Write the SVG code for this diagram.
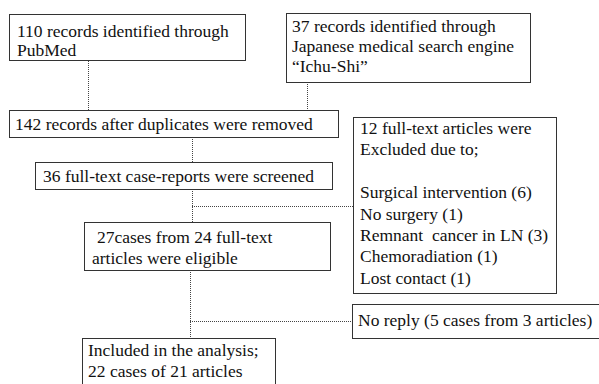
<svg xmlns="http://www.w3.org/2000/svg" width="599" height="384" viewBox="0 0 599 384">
<style>
.box{fill:#fff;stroke:#333;stroke-width:1}
.t{font-family:"Liberation Serif","Times New Roman",serif;font-size:17.5px;fill:#111}
.c{fill:none;stroke:#444;stroke-width:1;stroke-dasharray:1 1}
</style>
<rect width="599" height="384" fill="#fff"/>
<g id="connectors">
<line class="c" x1="88.5" y1="61" x2="88.5" y2="110"/>
<line class="c" x1="307.5" y1="82" x2="307.5" y2="110"/>
<line class="c" x1="192.5" y1="137" x2="192.5" y2="162"/>
<line class="c" x1="192.5" y1="189" x2="192.5" y2="222"/>
<line class="c" x1="192" y1="206.5" x2="354" y2="206.5"/>
<line class="c" x1="190.5" y1="270" x2="190.5" y2="338"/>
<line class="c" x1="190" y1="321.5" x2="352" y2="321.5"/>
</g>
<g id="n1"><rect class="box" x="9.5" y="14.5" width="236" height="46"/>
<text class="t" x="17" y="37">110 records identified through</text>
<text class="t" x="17" y="56">PubMed</text></g>
<g id="n2"><rect class="box" x="286.5" y="13.5" width="244" height="69"/>
<text class="t" x="292" y="32">37 records identified through</text>
<text class="t" x="292" y="52">Japanese medical search engine</text>
<text class="t" x="292" y="72">“Ichu-Shi”</text></g>
<g id="n3"><rect class="box" x="9.5" y="110.5" width="329" height="27"/>
<text class="t" x="15" y="130">142 records after duplicates were removed</text></g>
<g id="n4"><rect class="box" x="35.5" y="162.5" width="297" height="27"/>
<text class="t" x="43" y="182">36 full-text case-reports were screened</text></g>
<g id="n5"><rect class="box" x="84.5" y="222.5" width="246" height="48"/>
<text class="t" x="97" y="243">27cases from 24 full-text</text>
<text class="t" x="92" y="264">articles were eligible</text></g>
<g id="n6"><rect class="box" x="353.5" y="117.5" width="203" height="176"/>
<text class="t" x="360" y="134">12 full-text articles were</text>
<text class="t" x="360" y="155">Excluded due to;</text>
<text class="t" x="360" y="198">Surgical intervention (6)</text>
<text class="t" x="360" y="220">No surgery (1)</text>
<text class="t" x="360" y="241" xml:space="preserve">Remnant  cancer in LN (3)</text>
<text class="t" x="360" y="262">Chemoradiation (1)</text>
<text class="t" x="360" y="284">Lost contact (1)</text></g>
<g id="n7"><rect class="box" x="352.5" y="304.5" width="247" height="34"/>
<text class="t" x="358" y="326">No reply (5 cases from 3 articles)</text></g>
<g id="n8"><rect class="box" x="82.5" y="338.5" width="193" height="52"/>
<text class="t" x="88" y="356">Included in the analysis;</text>
<text class="t" x="88" y="377">22 cases of 21 articles</text></g>
</svg>
